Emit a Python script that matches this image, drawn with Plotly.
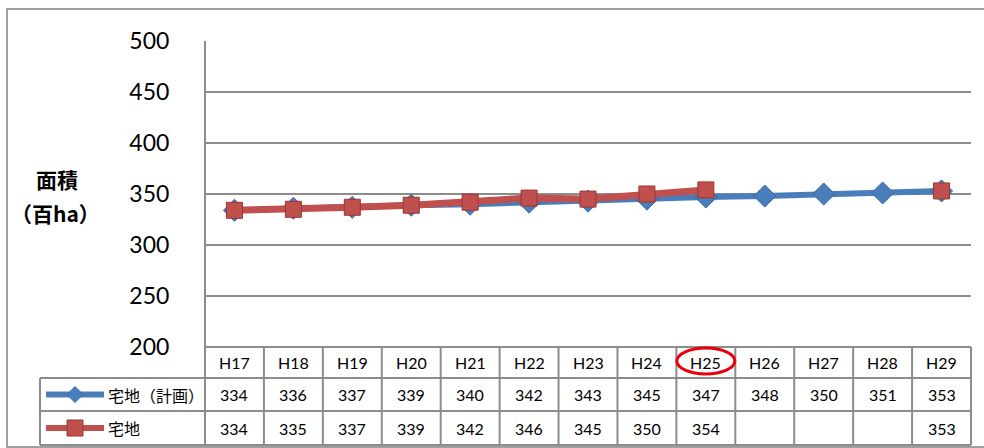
import plotly.graph_objects as go

categories = ["H17", "H18", "H19", "H20", "H21", "H22", "H23", "H24", "H25", "H26", "H27", "H28", "H29"]
plan_values = [334, 336, 337, 339, 340, 342, 343, 345, 347, 348, 350, 351, 353]
actual_values = [334, 335, 337, 339, 342, 346, 345, 350, 354, None, None, None, 353]
series_names = ["宅地（計画）", "宅地"]
y_ticks = [200, 250, 300, 350, 400, 450, 500]
y_title_lines = ["面積", "（百ha）"]
highlight = "H25"

W, H = 984, 448
PX_L, PX_R, PX_T, PX_B = 205, 971, 41, 347
ROW_Y = [347, 378, 411, 445]
LEG_L = 40
GRID = "#8c8c8c"
BLUE = "#4a7ebb"
RED = "#c0504d"
NUM_FONT = "Lato, 'Open Sans', sans-serif"
JP_FONT = "'Noto Sans CJK JP', sans-serif"


def px(x):
    return x / W


def py(y):
    return 1 - y / H


n = len(categories)
xs = list(range(n))

fig = go.Figure()
fig.add_trace(go.Scatter(
    x=xs, y=plan_values, mode="lines+markers", name=series_names[0],
    line=dict(color=BLUE, width=6),
    marker=dict(symbol="diamond", size=17, color=BLUE, line=dict(color="#3a6aa8", width=1)),
    showlegend=False,
))
fig.add_trace(go.Scatter(
    x=xs, y=actual_values, mode="lines+markers", name=series_names[1],
    line=dict(color=RED, width=7), connectgaps=False,
    marker=dict(symbol="square", size=16, color=RED, line=dict(color="#9b3532", width=1)),
    showlegend=False,
))

leg_y = [(ROW_Y[1] + ROW_Y[2]) / 2, (ROW_Y[2] + ROW_Y[3]) / 2]

shapes = []
# outer frame
shapes.append(dict(type="rect", xref="paper", yref="paper", x0=px(7), x1=px(990), y0=py(447), y1=py(9),
                   line=dict(color="#a0a0a0", width=2), layer="below"))
# table horizontal lines
for i, yv in enumerate(ROW_Y):
    x0 = PX_L if i == 0 else LEG_L
    shapes.append(dict(type="line", xref="paper", yref="paper", x0=px(x0), x1=px(PX_R),
                       y0=py(yv), y1=py(yv), line=dict(color=GRID, width=2)))
# table vertical lines
col_w = (PX_R - PX_L) / n
for i in range(n + 1):
    xv = PX_L + i * col_w
    y_top = PX_T if i == 0 else ROW_Y[0]
    shapes.append(dict(type="line", xref="paper", yref="paper", x0=px(xv), x1=px(xv),
                       y0=py(y_top), y1=py(ROW_Y[-1]), line=dict(color=GRID, width=2)))
shapes.append(dict(type="line", xref="paper", yref="paper", x0=px(LEG_L), x1=px(LEG_L),
                   y0=py(ROW_Y[1]), y1=py(ROW_Y[-1]), line=dict(color=GRID, width=2)))
# legend sample lines + markers
for yv, c in zip(leg_y, [BLUE, RED]):
    shapes.append(dict(type="line", xref="paper", yref="paper", x0=px(46), x1=px(104),
                       y0=py(yv), y1=py(yv), line=dict(color=c, width=6)))
mx = 75
d = 8
yv = leg_y[0]
shapes.append(dict(type="path", xref="paper", yref="paper",
                   path=f"M {px(mx - d)} {py(yv)} L {px(mx)} {py(yv - d)} L {px(mx + d)} {py(yv)} L {px(mx)} {py(yv + d)} Z",
                   fillcolor=BLUE, line=dict(color="#3a6aa8", width=1)))
yv = leg_y[1]
s = 8
shapes.append(dict(type="rect", xref="paper", yref="paper", x0=px(mx - s), x1=px(mx + s),
                   y0=py(yv + s), y1=py(yv - s), fillcolor=RED, line=dict(color="#9b3532", width=1)))
# highlight ellipse
hi = categories.index(highlight)
cx = PX_L + (hi + 0.5) * col_w
shapes.append(dict(type="circle", xref="paper", yref="paper", x0=px(cx - 29), x1=px(cx + 29),
                   y0=py(374), y1=py(348), line=dict(color="#e8000b", width=3)))

annotations = []


def ann(x, y, text, font, xanchor="center"):
    annotations.append(dict(xref="paper", yref="paper", x=px(x), y=py(y), text=text, showarrow=False,
                            xanchor=xanchor, yanchor="middle", font=font))


num_font = dict(family=NUM_FONT, size=16, color="#000")
for i, cat in enumerate(categories):
    cxi = PX_L + (i + 0.5) * col_w
    ann(cxi, (ROW_Y[0] + ROW_Y[1]) / 2, cat, num_font)
    for r, vals in enumerate([plan_values, actual_values]):
        v = vals[i]
        if v is None:
            continue
        ann(cxi, leg_y[r], str(v), num_font)
for r, name in enumerate(series_names):
    ann(106, leg_y[r], name, dict(family=JP_FONT, size=16, color="#000"), xanchor="left")
title_font = dict(family=JP_FONT, size=21, color="#000")
ann(57, 179, f"<b>{y_title_lines[0]}</b>", title_font)
ann(55, 213, f"<b>{y_title_lines[1]}</b>", title_font)

fig.update_layout(
    width=W, height=H,
    margin=dict(l=0, r=0, t=0, b=0, pad=0, autoexpand=False),
    paper_bgcolor="white", plot_bgcolor="white",
    xaxis=dict(domain=[px(PX_L), px(PX_R)], range=[-0.5, n - 0.5], showgrid=False, automargin=False,
               showticklabels=False, zeroline=False, showline=False, fixedrange=True),
    yaxis=dict(domain=[py(PX_B), py(PX_T)], range=[200, 500], tickvals=y_ticks, automargin=False,
               showgrid=True, gridcolor=GRID, gridwidth=2, zeroline=False, showline=False,
               tickfont=dict(family=NUM_FONT, size=23, color="#000"),
               ticks="outside", ticklen=30, tickcolor="rgba(0,0,0,0)", fixedrange=True),
    shapes=shapes, annotations=annotations,
)
fig.write_html("out.html", config={"displayModeBar": False},
               post_script="document.body.style.margin='0';")
